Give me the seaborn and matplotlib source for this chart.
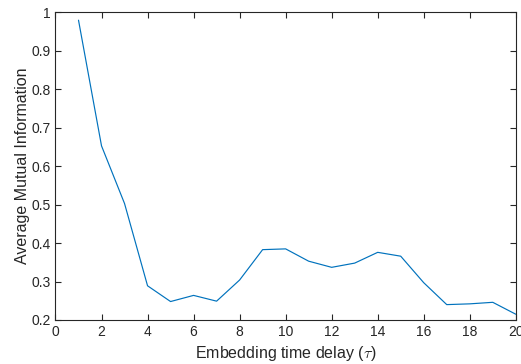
import matplotlib
matplotlib.use("Agg")
import matplotlib.pyplot as plt
import seaborn as sns
import pandas as pd

tau = list(range(1, 21))
ami = [0.980, 0.653, 0.503, 0.289, 0.248, 0.264, 0.249, 0.304, 0.383, 0.385,
       0.353, 0.337, 0.348, 0.376, 0.366, 0.297, 0.240, 0.242, 0.246, 0.215]
xticks = list(range(0, 21, 2))
yticks = [0.2, 0.3, 0.4, 0.5, 0.6, 0.7, 0.8, 0.9, 1.0]
yticklabels = ["0.2", "0.3", "0.4", "0.5", "0.6", "0.7", "0.8", "0.9", "1"]

sns.set_style("ticks")
plt.rcParams["font.family"] = ["Liberation Sans", "DejaVu Sans"]
plt.rcParams["mathtext.fontset"] = "cm"

df = pd.DataFrame({"tau": tau, "ami": ami})

fig = plt.figure(figsize=(5.21, 3.64), dpi=100)
ax = fig.add_axes([0.1065, 0.1209, 0.8835, 0.8448])
sns.lineplot(data=df, x="tau", y="ami", ax=ax, color="#0072BD", linewidth=0.85)

ax.set_xlim(0, 20)
ax.set_ylim(0.2, 1.0)
ax.set_xticks(xticks)
ax.set_xticklabels([str(t) for t in xticks])
ax.set_yticks(yticks)
ax.set_yticklabels(yticklabels)

gray = "#262626"
for s in ax.spines.values():
    s.set_visible(True)
    s.set_color(gray)
    s.set_linewidth(0.8)
ax.tick_params(direction="in", length=4, width=0.8, colors=gray, labelsize=10,
               top=True, right=True, labelcolor=gray)
ax.set_xlabel(r"Embedding time delay ($\tau$)", fontsize=11.5, color=gray, labelpad=4)
ax.set_ylabel("Average Mutual Information", fontsize=11.5, color=gray, labelpad=1)

fig.savefig("out.png", dpi=100)
